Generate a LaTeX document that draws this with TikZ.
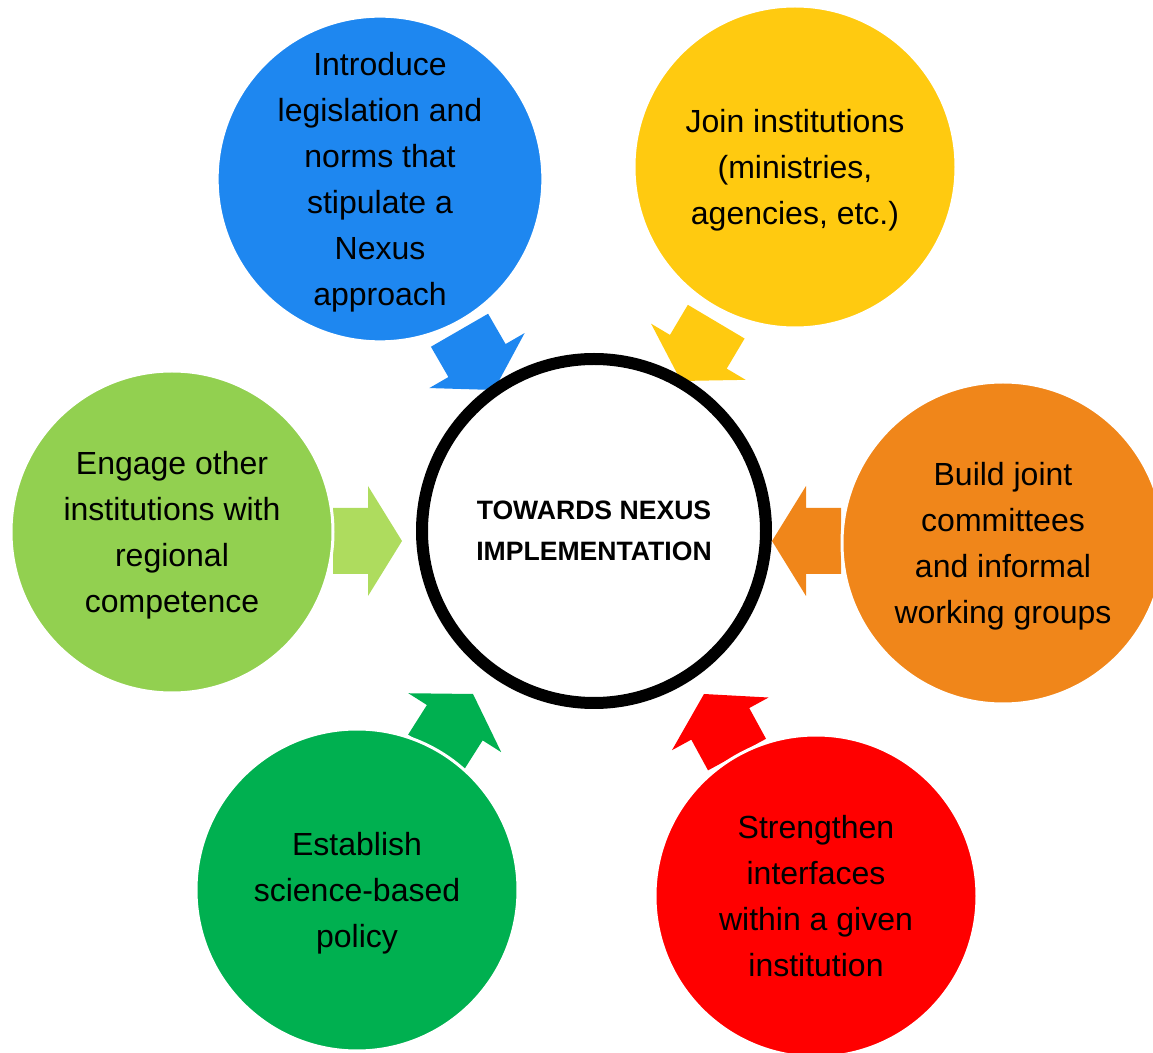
\documentclass[tikz,border=0pt]{standalone}
\usepackage{fontspec}
\setmainfont{Liberation Sans}
\definecolor{cblue}{HTML}{1E87F0}
\definecolor{cyellow}{HTML}{FFCA10}
\definecolor{clime}{HTML}{92D050}
\definecolor{climearrow}{HTML}{AEDC5E}
\definecolor{corange}{HTML}{F0861A}
\definecolor{cgreen}{HTML}{00B050}
\definecolor{cred}{HTML}{FF0000}
\begin{document}
\begin{tikzpicture}[x=0.5pt,y=-0.5pt,
  bubble/.style={circle, fill=#1, draw=white, line width=1.5pt, minimum size=161pt,
    inner sep=0pt, align=center, text=black, text depth=0pt,
    font=\fontsize{16pt}{23pt}\selectfont},
  hub/.style={circle, fill=white, draw=black, line width=6pt, minimum size=172pt,
    inner sep=0pt, align=center, text depth=0pt,
    font=\fontsize{13.3pt}{20.5pt}\selectfont\bfseries},
  pics/blockarrow/.style={code={
    \fill[#1] (0,0) -- (-34,-55) -- (-34,-33) -- (-69,-33) -- (-69,33)
      -- (-34,33) -- (-34,55) -- cycle;}}
]
\useasboundingbox (0,0) rectangle (1153,1053);
\clip (0,0) rectangle (1153,1053);

% arrow tips
\coordinate (tblue)   at (494,390);
\coordinate (tyellow) at (681,381);
\coordinate (tlime)   at (402,541);
\coordinate (torange) at (772,541);
\coordinate (tgreen)  at (473,694);
\coordinate (tred)    at (704,694);

% block arrows pointing to the hub
\pic[rotate=-60]    at (tblue)   {blockarrow=cblue};
\pic[rotate=-120.7] at (tyellow) {blockarrow=cyellow};
\pic                at (tlime)   {blockarrow=climearrow};
\pic[rotate=180]    at (torange) {blockarrow=corange};
\pic[rotate=57.6]   at (tgreen)  {blockarrow=cgreen};
\pic[rotate=118.6]  at (tred)    {blockarrow=cred};

% outer bubbles
\node[bubble=cblue]   (legal)   at (380,179) {Introduce\\legislation and\\norms that\\stipulate a\\Nexus\\approach};
\node[bubble=cyellow] (join)    at (795,167) {Join institutions\\(ministries,\\agencies, etc.)};
\node[bubble=clime]   (engage)  at (172,532) {Engage other\\institutions with\\regional\\competence};
\node[bubble=corange] (build)   at (1003,543) {Build joint\\committees\\and informal\\working groups};
\node[bubble=cgreen]  (science) at (357,890) {Establish\\science-based\\policy};
\node[bubble=cred]    (inter)   at (816,896) {Strengthen\\interfaces\\within a given\\institution};

% central hub
\node[hub] (hub) at (594,531) {TOWARDS NEXUS\\IMPLEMENTATION};
\end{tikzpicture}
\end{document}
